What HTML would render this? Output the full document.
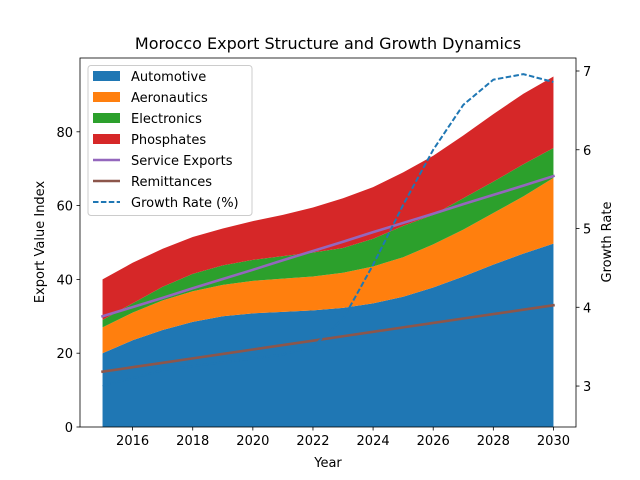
<!DOCTYPE html>
<html><head><meta charset="utf-8"><style>
body{margin:0;background:#fff}
svg{font-family:"DejaVu Sans","Liberation Sans",sans-serif;display:block}
</style></head><body>
<svg id="chart" width="640" height="480" viewBox="0 0 640 480">
<rect width="640" height="480" fill="#fff"/>
<g id="areas"></g>
<g id="lines"></g>
<rect x="80" y="58" width="496" height="369" fill="none" stroke="#000" stroke-width="0.8"/>
<g id="axes" font-size="13"></g>
<text x="328" y="49" text-anchor="middle" font-size="16">Morocco Export Structure and Growth Dynamics</text>
<text x="328" y="467" text-anchor="middle" font-size="13">Year</text>
<text transform="translate(44,242) rotate(-90)" text-anchor="middle" font-size="13">Export Value Index</text>
<text transform="translate(611,242) rotate(-90)" text-anchor="middle" font-size="13">Growth Rate</text>
<g id="legend" font-size="13"></g>
</svg>
<script>
const years=[2015,2016,2017,2018,2019,2020,2021,2022,2023,2024,2025,2026,2027,2028,2029,2030];
const automotive=[20,23.5,26.3,28.5,30,30.8,31.2,31.6,32.3,33.5,35.3,37.8,40.8,44,47,49.7];
const aeronautics=[7,7.5,8,8.3,8.5,8.8,9,9.2,9.5,10,10.7,11.7,12.7,14,15.5,17.8];
const electronics=[2,2.5,3.7,4.7,5.3,5.7,6.1,6.5,6.7,7.5,8.5,8,8.5,8.5,8.7,8.1];
const phosphates=[11,11,10.3,10,10,10.5,11.2,12.2,13.5,14,14.5,16,17,18.3,19.1,19.4];
const serviceExports=[30,32.5,35,37.6,40.1,42.6,45.2,47.7,50.2,52.8,55.3,57.8,60.4,62.9,65.4,68];
const remittances=[15,16.2,17.4,18.6,19.8,21,22.2,23.4,24.6,25.8,27,28.2,29.4,30.6,31.8,33];
const growthRate=[3.0,3.1,3.2,3.25,3.3,3.35,3.4,3.5,3.85,4.54,5.3,6.0,6.57,6.89,6.96,6.86];
const xTicks=[2016,2018,2020,2022,2024,2026,2028,2030];
const yTicks=[0,20,40,60,80];
const y2Ticks=[3,4,5,6,7];

const NS="http://www.w3.org/2000/svg";
const X=v=>80+(v-2014.25)/16.5*496;
const Y=v=>427-v/100*369;
const Y2=v=>427-(v-2.48)/(7.165-2.48)*369;
function mk(tag,attrs,parent){const e=document.createElementNS(NS,tag);for(const k in attrs)e.setAttribute(k,attrs[k]);parent.appendChild(e);return e;}

const areas=document.getElementById('areas');
const series=[automotive,aeronautics,electronics,phosphates];
const colors=['#1f77b4','#ff7f0e','#2ca02c','#d62728'];
const names=['area-automotive','area-aeronautics','area-electronics','area-phosphates'];
let base=years.map(()=>0);
series.forEach((s,i)=>{
  const top=base.map((b,j)=>b+s[j]);
  let d=years.map((y,j)=>(j?'L':'M')+X(y)+','+Y(top[j])).join('');
  for(let j=years.length-1;j>=0;j--)d+='L'+X(years[j])+','+Y(base[j]);
  const p=mk('path',{d:d+'Z',fill:colors[i]},areas);
  
  
  base=top;
});
const lines=document.getElementById('lines');
function line(vals,fy,color,dash,name){
  const p=mk('polyline',{points:years.map((y,j)=>X(y)+','+fy(vals[j])).join(' '),fill:'none',stroke:color,'stroke-width':2.6,'stroke-linecap':'square'},lines);
  if(dash){p.setAttribute('stroke-dasharray','5.5,2.4');p.setAttribute('stroke-width',2);p.setAttribute('stroke-linecap','butt');}
  
  
}
line(serviceExports,Y,'#9467bd',null,'line-service-exports');
line(remittances,Y,'#8c564b',null,'line-remittances');
const clip=mk('clipPath',{id:'pc'},document.getElementById('chart'));
mk('rect',{x:80,y:58,width:496,height:369},clip);
line(growthRate,Y2,'#1f77b4',true,'line-growth-rate');
lines.lastChild.setAttribute('clip-path','url(#pc)');

const axes=document.getElementById('axes');
xTicks.forEach(t=>{
  mk('line',{x1:X(t),x2:X(t),y1:427,y2:430.5,stroke:'#000','stroke-width':0.8},axes);
  const tx=mk('text',{x:X(t),y:445,'text-anchor':'middle'},axes);tx.textContent=t;
  
  
});
yTicks.forEach(t=>{
  mk('line',{x1:76.5,x2:80,y1:Y(t),y2:Y(t),stroke:'#000','stroke-width':0.8},axes);
  const tx=mk('text',{x:73,y:Y(t)+5,'text-anchor':'end'},axes);tx.textContent=t;
  
  
});
y2Ticks.forEach(t=>{
  mk('line',{x1:576,x2:579.5,y1:Y2(t),y2:Y2(t),stroke:'#000','stroke-width':0.8},axes);
  const tx=mk('text',{x:583,y:Y2(t)+5,'text-anchor':'start'},axes);tx.textContent=t;
  
  
});

const lg=document.getElementById('legend');
mk('rect',{x:88,y:65.5,width:164,height:150,rx:3,fill:'#fff','fill-opacity':0.8,stroke:'#ccc','stroke-width':1},lg);
const items=[['Automotive','p','#1f77b4'],['Aeronautics','p','#ff7f0e'],['Electronics','p','#2ca02c'],['Phosphates','p','#d62728'],['Service Exports','l','#9467bd'],['Remittances','l','#8c564b'],['Growth Rate (%)','d','#1f77b4']];
items.forEach((it,i)=>{
  const cy=76+i*21;
  const g=mk('g',{},lg);
  
  
  if(it[1]=='p')mk('rect',{x:93,y:cy-5,width:27,height:10,fill:it[2]},g);
  else mk('line',{x1:93,x2:120,y1:cy,y2:cy,stroke:it[2],'stroke-width':it[1]=='d'?2:2.6,'stroke-dasharray':it[1]=='d'?'5.5,2.4':'none'},g);
  const t=mk('text',{x:131,y:cy+5},g);t.textContent=it[0];
});
</script>
</body></html>
